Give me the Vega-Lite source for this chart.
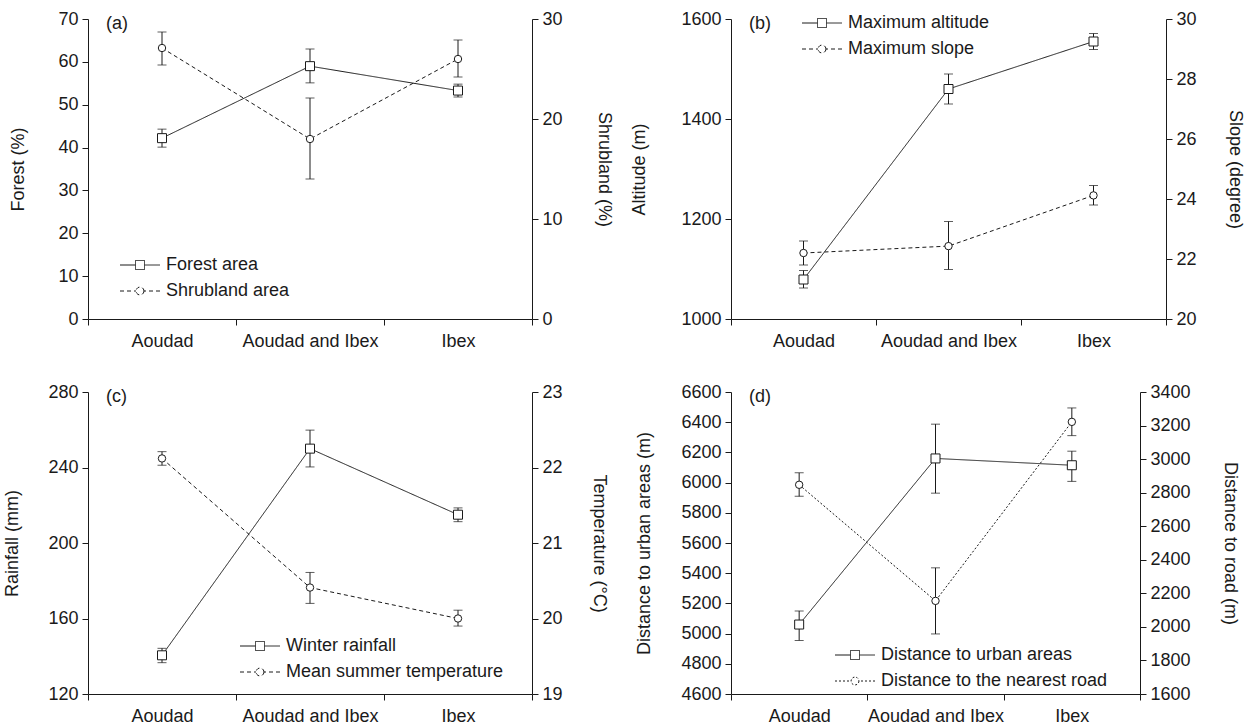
{
  "$schema": "https://vega.github.io/schema/vega-lite/v6.json",
  "background": "white",
  "padding": {"left": 3, "top": 10, "right": 2, "bottom": 0},
  "config": {
    "font": "Liberation Sans",
    "view": {"stroke": null},
    "axis": {"grid": false, "domainColor": "#1a1a1a", "tickColor": "#1a1a1a", "labelColor": "#1a1a1a", "titleColor": "#1a1a1a", "labelFontSize": 18, "titleFontSize": 18, "titleFontWeight": "normal", "tickSize": 6, "labelPadding": 4, "domainWidth": 1, "tickWidth": 1, "labelOverlap": false},
    "legend": {"labelFontSize": 18, "labelColor": "#1a1a1a", "padding": 0, "rowPadding": 8, "symbolSize": 100, "labelOffset": 17, "labelLimit": 400, "symbolStrokeColor": "#1a1a1a", "symbolStrokeWidth": 1},
    "title": {"fontSize": 18, "fontWeight": "normal", "color": "#1a1a1a", "anchor": "start", "frame": "group", "baseline": "top", "offset": -23, "dx": 18}
  },
  "resolve": {"scale": {"strokeDash": "independent"}, "legend": {"strokeDash": "independent"}},
  "datasets": {
    "a": [
      {"group": "Aoudad", "v1": 42.2, "v1lo": 40.1, "v1hi": 44.3, "v2": 27.1, "v2lo": 25.4, "v2hi": 28.7},
      {"group": "Aoudad and Ibex", "v1": 59.0, "v1lo": 55.1, "v1hi": 63.0, "v2": 18.0, "v2lo": 14.0, "v2hi": 22.1},
      {"group": "Ibex", "v1": 53.3, "v1lo": 51.8, "v1hi": 54.8, "v2": 26.0, "v2lo": 24.2, "v2hi": 27.9}
    ],
    "b": [
      {"group": "Aoudad", "v1": 1079, "v1lo": 1062, "v1hi": 1097, "v2": 22.2, "v2lo": 21.8, "v2hi": 22.6},
      {"group": "Aoudad and Ibex", "v1": 1460, "v1lo": 1430, "v1hi": 1490, "v2": 22.43, "v2lo": 21.65, "v2hi": 23.25},
      {"group": "Ibex", "v1": 1555, "v1lo": 1539, "v1hi": 1571, "v2": 24.12, "v2lo": 23.8, "v2hi": 24.45}
    ],
    "c": [
      {"group": "Aoudad", "v1": 140.5, "v1lo": 136.6, "v1hi": 144.2, "v2": 22.12, "v2lo": 22.03, "v2hi": 22.21},
      {"group": "Aoudad and Ibex", "v1": 250, "v1lo": 240.3, "v1hi": 259.8, "v2": 20.41, "v2lo": 20.2, "v2hi": 20.61},
      {"group": "Ibex", "v1": 215, "v1lo": 211.3, "v1hi": 218.6, "v2": 20.0, "v2lo": 19.9, "v2hi": 20.11}
    ],
    "d": [
      {"group": "Aoudad", "v1": 5060, "v1lo": 4955, "v1hi": 5150, "v2": 2847, "v2lo": 2778, "v2hi": 2918},
      {"group": "Aoudad and Ibex", "v1": 6160, "v1lo": 5930, "v1hi": 6387, "v2": 2155, "v2lo": 1958, "v2hi": 2352},
      {"group": "Ibex", "v1": 6115, "v1lo": 6008, "v1hi": 6208, "v2": 3222, "v2lo": 3140, "v2hi": 3305}
    ]
  },
  "columns": 2,
  "spacing": {"column": 17, "row": 33},
  "concat": [
    {
      "width": 444, "height": 300,
      "data": {"name": "a"},
      "title": {"text": "(a)"},
      "encoding": {"x": {"field": "group", "type": "nominal", "sort": ["Aoudad", "Aoudad and Ibex", "Ibex"], "scale": {"paddingInner": 0, "paddingOuter": 0}, "axis": {"title": null, "labelAngle": 0, "tickBand": "extent", "labelPadding": 7}}},
      "layer": [
        {
          "layer": [
            {"mark": {"type": "rule", "color": "#1a1a1a", "strokeWidth": 1}, "encoding": {"y": {"field": "v1lo", "type": "quantitative", "scale": {"domain": [0, 70], "nice": false, "zero": false}, "axis": {"orient": "left", "format": "d", "values": [0, 10, 20, 30, 40, 50, 60, 70], "tickCount": 12, "title": "Forest (%)", "titlePadding": 30}}, "y2": {"field": "v1hi"}}},
            {"mark": {"type": "tick", "color": "#1a1a1a", "size": 9, "thickness": 1}, "encoding": {"y": {"field": "v1lo", "type": "quantitative"}}},
            {"mark": {"type": "tick", "color": "#1a1a1a", "size": 9, "thickness": 1}, "encoding": {"y": {"field": "v1hi", "type": "quantitative"}}},
            {"mark": {"type": "line", "color": "#1a1a1a", "strokeWidth": 1}, "encoding": {"y": {"field": "v1", "type": "quantitative"}, "strokeDash": {"datum": "Forest area", "scale": {"domain": ["Forest area", "Shrubland area"], "range": [[1, 0], [4, 3]]}, "legend": {"title": null, "orient": "none", "legendX": 43, "legendY": 237, "encode": {"symbols": {"update": {"shape": {"signal": "datum.value === 'Forest area' ? 'M-4,0H-0.9M0.9,0H4M-0.9,-0.9H0.9V0.9H-0.9Z' : 'M-4,0H-3.2M-2.6,0H-1.8M-1.2,0H-0.8M0.8,0H1.2M1.8,0H2.6M3.2,0H4M0.8,0L0.693,0.4L0.4,0.693L0,0.8L-0.4,0.693L-0.693,0.4L-0.8,0L-0.693,-0.4L-0.4,-0.693L0,-0.8L0.4,-0.693L0.693,-0.4Z'"}, "strokeDash": {"value": [1, 0]}, "fill": {"value": "white"}, "stroke": {"value": "#1a1a1a"}, "size": {"value": 100}}}}}}}},
            {"mark": {"type": "point", "shape": "square", "filled": false, "fill": "white", "fillOpacity": 1, "stroke": "#1a1a1a", "strokeWidth": 1, "size": 81, "opacity": 1}, "encoding": {"y": {"field": "v1", "type": "quantitative"}}}
          ]
        },
        {
          "layer": [
            {"mark": {"type": "rule", "color": "#1a1a1a", "strokeWidth": 1}, "encoding": {"y": {"field": "v2lo", "type": "quantitative", "scale": {"domain": [0, 30], "nice": false, "zero": false}, "axis": {"orient": "right", "format": "d", "values": [0, 10, 20, 30], "title": "Shrubland (%)", "titlePadding": 32}}, "y2": {"field": "v2hi"}}},
            {"mark": {"type": "tick", "color": "#1a1a1a", "size": 9, "thickness": 1}, "encoding": {"y": {"field": "v2lo", "type": "quantitative"}}},
            {"mark": {"type": "tick", "color": "#1a1a1a", "size": 9, "thickness": 1}, "encoding": {"y": {"field": "v2hi", "type": "quantitative"}}},
            {"mark": {"type": "line", "color": "#1a1a1a", "strokeWidth": 1}, "encoding": {"y": {"field": "v2", "type": "quantitative"}, "strokeDash": {"datum": "Shrubland area", "scale": {"domain": ["Forest area", "Shrubland area"], "range": [[1, 0], [4, 3]]}}}},
            {"mark": {"type": "point", "shape": "circle", "filled": false, "fill": "white", "fillOpacity": 1, "stroke": "#1a1a1a", "strokeWidth": 1, "size": 55, "opacity": 1}, "encoding": {"y": {"field": "v2", "type": "quantitative"}}}
          ]
        }
      ],
      "resolve": {"scale": {"y": "independent"}}
    },
    {
      "width": 435, "height": 300,
      "data": {"name": "b"},
      "title": {"text": "(b)"},
      "encoding": {"x": {"field": "group", "type": "nominal", "sort": ["Aoudad", "Aoudad and Ibex", "Ibex"], "scale": {"paddingInner": 0, "paddingOuter": 0}, "axis": {"title": null, "labelAngle": 0, "tickBand": "extent", "labelPadding": 7}}},
      "layer": [
        {
          "layer": [
            {"mark": {"type": "rule", "color": "#1a1a1a", "strokeWidth": 1}, "encoding": {"y": {"field": "v1lo", "type": "quantitative", "scale": {"domain": [1000, 1600], "nice": false, "zero": false}, "axis": {"orient": "left", "format": "d", "values": [1000, 1200, 1400, 1600], "title": "Altitude (m)", "titlePadding": 32}}, "y2": {"field": "v1hi"}}},
            {"mark": {"type": "tick", "color": "#1a1a1a", "size": 9, "thickness": 1}, "encoding": {"y": {"field": "v1lo", "type": "quantitative"}}},
            {"mark": {"type": "tick", "color": "#1a1a1a", "size": 9, "thickness": 1}, "encoding": {"y": {"field": "v1hi", "type": "quantitative"}}},
            {"mark": {"type": "line", "color": "#1a1a1a", "strokeWidth": 1}, "encoding": {"y": {"field": "v1", "type": "quantitative"}, "strokeDash": {"datum": "Maximum altitude", "scale": {"domain": ["Maximum altitude", "Maximum slope"], "range": [[1, 0], [4, 3]]}, "legend": {"title": null, "orient": "none", "legendX": 82, "legendY": -5, "encode": {"symbols": {"update": {"shape": {"signal": "datum.value === 'Maximum altitude' ? 'M-4,0H-0.9M0.9,0H4M-0.9,-0.9H0.9V0.9H-0.9Z' : 'M-4,0H-3.2M-2.6,0H-1.8M-1.2,0H-0.8M0.8,0H1.2M1.8,0H2.6M3.2,0H4M0.8,0L0.693,0.4L0.4,0.693L0,0.8L-0.4,0.693L-0.693,0.4L-0.8,0L-0.693,-0.4L-0.4,-0.693L0,-0.8L0.4,-0.693L0.693,-0.4Z'"}, "strokeDash": {"value": [1, 0]}, "fill": {"value": "white"}, "stroke": {"value": "#1a1a1a"}, "size": {"value": 100}}}}}}}},
            {"mark": {"type": "point", "shape": "square", "filled": false, "fill": "white", "fillOpacity": 1, "stroke": "#1a1a1a", "strokeWidth": 1, "size": 81, "opacity": 1}, "encoding": {"y": {"field": "v1", "type": "quantitative"}}}
          ]
        },
        {
          "layer": [
            {"mark": {"type": "rule", "color": "#1a1a1a", "strokeWidth": 1}, "encoding": {"y": {"field": "v2lo", "type": "quantitative", "scale": {"domain": [20, 30], "nice": false, "zero": false}, "axis": {"orient": "right", "format": "d", "values": [20, 22, 24, 26, 28, 30], "title": "Slope (degree)", "titlePadding": 29}}, "y2": {"field": "v2hi"}}},
            {"mark": {"type": "tick", "color": "#1a1a1a", "size": 9, "thickness": 1}, "encoding": {"y": {"field": "v2lo", "type": "quantitative"}}},
            {"mark": {"type": "tick", "color": "#1a1a1a", "size": 9, "thickness": 1}, "encoding": {"y": {"field": "v2hi", "type": "quantitative"}}},
            {"mark": {"type": "line", "color": "#1a1a1a", "strokeWidth": 1}, "encoding": {"y": {"field": "v2", "type": "quantitative"}, "strokeDash": {"datum": "Maximum slope", "scale": {"domain": ["Maximum altitude", "Maximum slope"], "range": [[1, 0], [4, 3]]}}}},
            {"mark": {"type": "point", "shape": "circle", "filled": false, "fill": "white", "fillOpacity": 1, "stroke": "#1a1a1a", "strokeWidth": 1, "size": 55, "opacity": 1}, "encoding": {"y": {"field": "v2", "type": "quantitative"}}}
          ]
        }
      ],
      "resolve": {"scale": {"y": "independent"}}
    },
    {
      "width": 444, "height": 302,
      "data": {"name": "c"},
      "title": {"text": "(c)"},
      "encoding": {"x": {"field": "group", "type": "nominal", "sort": ["Aoudad", "Aoudad and Ibex", "Ibex"], "scale": {"paddingInner": 0, "paddingOuter": 0}, "axis": {"title": null, "labelAngle": 0, "tickBand": "extent", "labelPadding": 7}}},
      "layer": [
        {
          "layer": [
            {"mark": {"type": "rule", "color": "#1a1a1a", "strokeWidth": 1}, "encoding": {"y": {"field": "v1lo", "type": "quantitative", "scale": {"domain": [120, 280], "nice": false, "zero": false}, "axis": {"orient": "left", "format": "d", "values": [120, 160, 200, 240, 280], "title": "Rainfall (mm)", "titlePadding": 26}}, "y2": {"field": "v1hi"}}},
            {"mark": {"type": "tick", "color": "#1a1a1a", "size": 9, "thickness": 1}, "encoding": {"y": {"field": "v1lo", "type": "quantitative"}}},
            {"mark": {"type": "tick", "color": "#1a1a1a", "size": 9, "thickness": 1}, "encoding": {"y": {"field": "v1hi", "type": "quantitative"}}},
            {"mark": {"type": "line", "color": "#1a1a1a", "strokeWidth": 1}, "encoding": {"y": {"field": "v1", "type": "quantitative"}, "strokeDash": {"datum": "Winter rainfall", "scale": {"domain": ["Winter rainfall", "Mean summer temperature"], "range": [[1, 0], [4, 3]]}, "legend": {"title": null, "orient": "none", "legendX": 163, "legendY": 245, "encode": {"symbols": {"update": {"shape": {"signal": "datum.value === 'Winter rainfall' ? 'M-4,0H-0.9M0.9,0H4M-0.9,-0.9H0.9V0.9H-0.9Z' : 'M-4,0H-3.2M-2.6,0H-1.8M-1.2,0H-0.8M0.8,0H1.2M1.8,0H2.6M3.2,0H4M0.8,0L0.693,0.4L0.4,0.693L0,0.8L-0.4,0.693L-0.693,0.4L-0.8,0L-0.693,-0.4L-0.4,-0.693L0,-0.8L0.4,-0.693L0.693,-0.4Z'"}, "strokeDash": {"value": [1, 0]}, "fill": {"value": "white"}, "stroke": {"value": "#1a1a1a"}, "size": {"value": 100}}}}}}}},
            {"mark": {"type": "point", "shape": "square", "filled": false, "fill": "white", "fillOpacity": 1, "stroke": "#1a1a1a", "strokeWidth": 1, "size": 81, "opacity": 1}, "encoding": {"y": {"field": "v1", "type": "quantitative"}}}
          ]
        },
        {
          "layer": [
            {"mark": {"type": "rule", "color": "#1a1a1a", "strokeWidth": 1}, "encoding": {"y": {"field": "v2lo", "type": "quantitative", "scale": {"domain": [19, 23], "nice": false, "zero": false}, "axis": {"orient": "right", "format": "d", "values": [19, 20, 21, 22, 23], "title": "Temperature (°C)", "titlePadding": 27}}, "y2": {"field": "v2hi"}}},
            {"mark": {"type": "tick", "color": "#1a1a1a", "size": 9, "thickness": 1}, "encoding": {"y": {"field": "v2lo", "type": "quantitative"}}},
            {"mark": {"type": "tick", "color": "#1a1a1a", "size": 9, "thickness": 1}, "encoding": {"y": {"field": "v2hi", "type": "quantitative"}}},
            {"mark": {"type": "line", "color": "#1a1a1a", "strokeWidth": 1}, "encoding": {"y": {"field": "v2", "type": "quantitative"}, "strokeDash": {"datum": "Mean summer temperature", "scale": {"domain": ["Winter rainfall", "Mean summer temperature"], "range": [[1, 0], [4, 3]]}}}},
            {"mark": {"type": "point", "shape": "circle", "filled": false, "fill": "white", "fillOpacity": 1, "stroke": "#1a1a1a", "strokeWidth": 1, "size": 55, "opacity": 1}, "encoding": {"y": {"field": "v2", "type": "quantitative"}}}
          ]
        }
      ],
      "resolve": {"scale": {"y": "independent"}}
    },
    {
      "width": 409, "height": 302,
      "data": {"name": "d"},
      "title": {"text": "(d)"},
      "encoding": {"x": {"field": "group", "type": "nominal", "sort": ["Aoudad", "Aoudad and Ibex", "Ibex"], "scale": {"paddingInner": 0, "paddingOuter": 0}, "axis": {"title": null, "labelAngle": 0, "tickBand": "extent", "labelPadding": 7}}},
      "layer": [
        {
          "layer": [
            {"mark": {"type": "rule", "color": "#1a1a1a", "strokeWidth": 1}, "encoding": {"y": {"field": "v1lo", "type": "quantitative", "scale": {"domain": [4600, 6600], "nice": false, "zero": false}, "axis": {"orient": "left", "format": "d", "values": [4600, 4800, 5000, 5200, 5400, 5600, 5800, 6000, 6200, 6400, 6600], "tickCount": 12, "labelOverlap": false, "title": "Distance to urban areas (m)", "titlePadding": 27}}, "y2": {"field": "v1hi"}}},
            {"mark": {"type": "tick", "color": "#1a1a1a", "size": 9, "thickness": 1}, "encoding": {"y": {"field": "v1lo", "type": "quantitative"}}},
            {"mark": {"type": "tick", "color": "#1a1a1a", "size": 9, "thickness": 1}, "encoding": {"y": {"field": "v1hi", "type": "quantitative"}}},
            {"mark": {"type": "line", "color": "#1a1a1a", "strokeWidth": 1}, "encoding": {"y": {"field": "v1", "type": "quantitative"}, "strokeDash": {"datum": "Distance to urban areas", "scale": {"domain": ["Distance to urban areas", "Distance to the nearest road"], "range": [[1, 0], [2, 2]]}, "legend": {"title": null, "orient": "none", "legendX": 115, "legendY": 254, "encode": {"symbols": {"update": {"shape": {"signal": "datum.value === 'Distance to urban areas' ? 'M-4,0H-0.9M0.9,0H4M-0.9,-0.9H0.9V0.9H-0.9Z' : 'M-4,0H-3.6M-3.2,0H-2.8M-2.4,0H-2M-1.6,0H-1.2M1.2,0H1.6M2,0H2.4M2.8,0H3.2M3.6,0H4M0.8,0L0.693,0.4L0.4,0.693L0,0.8L-0.4,0.693L-0.693,0.4L-0.8,0L-0.693,-0.4L-0.4,-0.693L0,-0.8L0.4,-0.693L0.693,-0.4Z'"}, "strokeDash": {"value": [1, 0]}, "fill": {"value": "white"}, "stroke": {"value": "#1a1a1a"}, "size": {"value": 100}}}}}}}},
            {"mark": {"type": "point", "shape": "square", "filled": false, "fill": "white", "fillOpacity": 1, "stroke": "#1a1a1a", "strokeWidth": 1, "size": 81, "opacity": 1}, "encoding": {"y": {"field": "v1", "type": "quantitative"}}}
          ]
        },
        {
          "layer": [
            {"mark": {"type": "rule", "color": "#1a1a1a", "strokeWidth": 1}, "encoding": {"y": {"field": "v2lo", "type": "quantitative", "scale": {"domain": [1600, 3400], "nice": false, "zero": false}, "axis": {"orient": "right", "format": "d", "values": [1600, 1800, 2000, 2200, 2400, 2600, 2800, 3000, 3200, 3400], "tickCount": 12, "labelOverlap": false, "title": "Distance to road (m)", "titlePadding": 30}}, "y2": {"field": "v2hi"}}},
            {"mark": {"type": "tick", "color": "#1a1a1a", "size": 9, "thickness": 1}, "encoding": {"y": {"field": "v2lo", "type": "quantitative"}}},
            {"mark": {"type": "tick", "color": "#1a1a1a", "size": 9, "thickness": 1}, "encoding": {"y": {"field": "v2hi", "type": "quantitative"}}},
            {"mark": {"type": "line", "color": "#1a1a1a", "strokeWidth": 1}, "encoding": {"y": {"field": "v2", "type": "quantitative"}, "strokeDash": {"datum": "Distance to the nearest road", "scale": {"domain": ["Distance to urban areas", "Distance to the nearest road"], "range": [[1, 0], [2, 2]]}}}},
            {"mark": {"type": "point", "shape": "circle", "filled": false, "fill": "white", "fillOpacity": 1, "stroke": "#1a1a1a", "strokeWidth": 1, "size": 55, "opacity": 1}, "encoding": {"y": {"field": "v2", "type": "quantitative"}}}
          ]
        }
      ],
      "resolve": {"scale": {"y": "independent"}}
    }
  ]
}
